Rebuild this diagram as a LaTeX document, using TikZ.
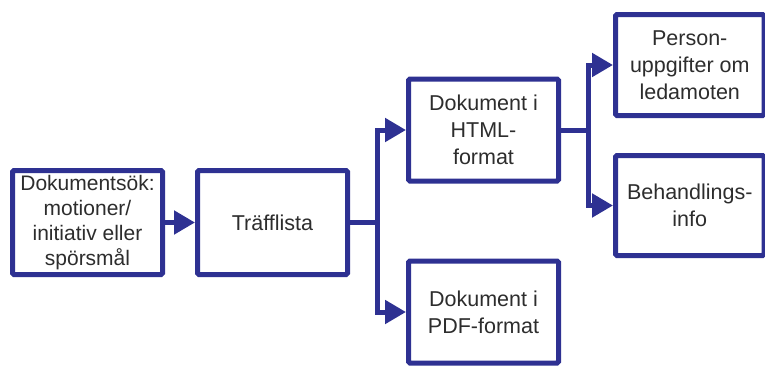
\documentclass[tikz,border=0pt]{standalone}
\usepackage{fontspec}
\setmainfont{Liberation Sans}
\usetikzlibrary{arrows.meta}
\definecolor{boxblue}{RGB}{46,49,146}
\definecolor{txt}{RGB}{45,45,45}
\tikzset{
  box/.style={draw=boxblue, line width=5pt, rounded corners=1.5pt, fill=white,
    inner sep=0pt, align=center, text=txt, font=\fontsize{21.5}{27}\selectfont},
  conn/.style={draw=boxblue, line width=5pt,
    -{Triangle[length=21pt,width=23pt]}}
}
\begin{document}
\begin{tikzpicture}[x=1pt,y=-1pt]
\useasboundingbox (0,0) rectangle (765,367);
\node[box, minimum width=150pt, minimum height=104pt, font=\fontsize{21}{25}\selectfont] (b1) at (87.5,222.5) {Dokumentsök:\\motioner/\\initiativ eller\\spörsmål};
\node[box, minimum width=150pt, minimum height=104pt] (b2) at (272.5,222.5) {Träfflista};
\node[box, minimum width=150pt, minimum height=102pt] (html) at (483.5,130) {Dokument i\\HTML-\\format};
\node[box, minimum width=150pt, minimum height=102pt] (pdf) at (483.5,312) {Dokument i\\PDF-format};
\node[box, minimum width=148.5pt, minimum height=101pt] (pers) at (689.75,65) {Person-\\uppgifter om\\ledamoten};
\node[box, minimum width=148.5pt, minimum height=100pt] (beh) at (689.75,205.5) {Behandlings-\\info};
\coordinate (j1) at (377,222.5);
\coordinate (j2) at (588,130);
\draw[conn] (b1.east) -- (b2.west);
\draw[conn] (b2.east) -- (j1) |- (html.west);
\draw[conn] (j1) |- (pdf.west);
\draw[conn] (html.east) -- (j2) |- (pers.west);
\draw[conn] (j2) |- (beh.west);
\end{tikzpicture}
\end{document}
